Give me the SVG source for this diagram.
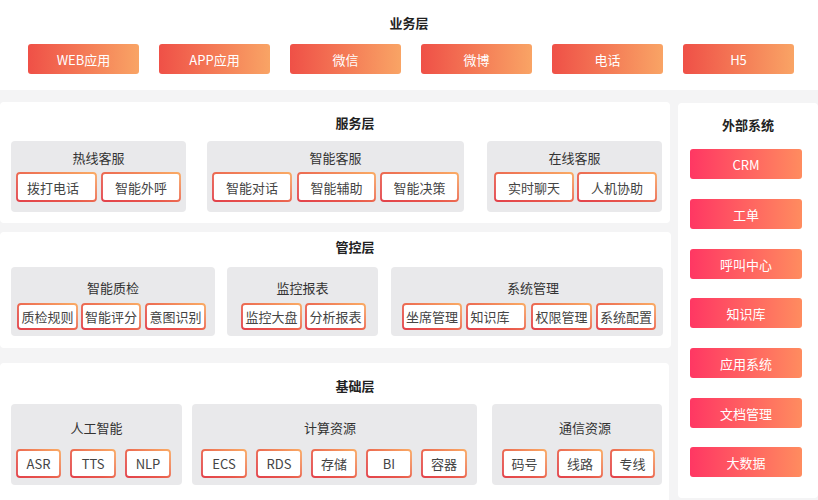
<svg xmlns="http://www.w3.org/2000/svg" width="818" height="500" viewBox="0 0 818 500">
<defs>
<linearGradient id="gBiz" x1="0" y1="0" x2="1" y2="0"><stop offset="0" stop-color="#ef5047"/><stop offset="1" stop-color="#f9a465"/></linearGradient>
<linearGradient id="gExt" x1="0" y1="0" x2="1" y2="0"><stop offset="0" stop-color="#ff3763"/><stop offset="1" stop-color="#ff8c5f"/></linearGradient>
<linearGradient id="gItem" x1="0" y1="1" x2="1" y2="0"><stop offset="0" stop-color="#e3434b"/><stop offset="0.35" stop-color="#e8574c"/><stop offset="1" stop-color="#faaa64"/></linearGradient>
<style>
text{font-family:"Noto Sans CJK SC","Noto Sans",sans-serif;text-anchor:middle;dominant-baseline:central}
.layer{font-size:13px;font-weight:bold;fill:#222}
.panel{fill:#ffffff}
.grp rect{fill:#e9e9eb}
.gt{font-size:13px;fill:#333}
.biz{fill:url(#gBiz)}
.ext{fill:url(#gExt)}
.bt{font-size:13px;fill:#ffffff}
.item{fill:#ffffff;stroke:url(#gItem);stroke-width:1.8}
.it{font-size:13px;fill:#444}
</style>
</defs>
<rect x="0" y="0" width="818" height="500" fill="#f4f4f5"/>
<rect x="0" y="0" width="818" height="90" fill="#ffffff"/>
<rect class="panel" x="0" y="102" width="670" height="121" rx="4"/>
<rect class="panel" x="0" y="232" width="671" height="116" rx="4"/>
<rect class="panel" x="0" y="363" width="669" height="140" rx="4"/>
<rect class="panel" x="678" y="103" width="140" height="395" rx="4"/>

<text class="layer" x="409" y="22">业务层</text>
<text class="layer" x="355" y="122.5">服务层</text>
<text class="layer" x="355" y="246.5">管控层</text>
<text class="layer" x="355" y="385.5">基础层</text>
<text class="layer" x="748" y="124.5">外部系统</text>

<g id="biz-web"><rect class="biz" x="28" y="44" width="111" height="30" rx="3"/><text class="bt" x="83.5" y="59">WEB应用</text></g>
<g id="biz-app"><rect class="biz" x="159" y="44" width="111" height="30" rx="3"/><text class="bt" x="214.5" y="59">APP应用</text></g>
<g id="biz-wechat"><rect class="biz" x="290" y="44" width="111" height="30" rx="3"/><text class="bt" x="345.5" y="59">微信</text></g>
<g id="biz-weibo"><rect class="biz" x="421" y="44" width="111" height="30" rx="3"/><text class="bt" x="476.5" y="59">微博</text></g>
<g id="biz-phone"><rect class="biz" x="552" y="44" width="111" height="30" rx="3"/><text class="bt" x="607.5" y="59">电话</text></g>
<g id="biz-h5"><rect class="biz" x="683" y="44" width="111" height="30" rx="3"/><text class="bt" x="738.5" y="59">H5</text></g>

<g id="ext-crm"><rect class="ext" x="690" y="149" width="112" height="30" rx="3"/><text class="bt" x="746" y="164">CRM</text></g>
<g id="ext-ticket"><rect class="ext" x="690" y="199" width="112" height="30" rx="3"/><text class="bt" x="746" y="214">工单</text></g>
<g id="ext-callcenter"><rect class="ext" x="690" y="249" width="112" height="30" rx="3"/><text class="bt" x="746" y="264">呼叫中心</text></g>
<g id="ext-kb"><rect class="ext" x="690" y="298" width="112" height="30" rx="3"/><text class="bt" x="746" y="313">知识库</text></g>
<g id="ext-app"><rect class="ext" x="690" y="348" width="112" height="30" rx="3"/><text class="bt" x="746" y="363">应用系统</text></g>
<g id="ext-doc"><rect class="ext" x="690" y="398" width="112" height="30" rx="3"/><text class="bt" x="746" y="413">文档管理</text></g>
<g id="ext-bigdata"><rect class="ext" x="690" y="447" width="112" height="30" rx="3"/><text class="bt" x="746" y="462">大数据</text></g>

<g id="svc-hotline" class="grp"><rect x="11" y="141" width="175" height="71" rx="4"/><text class="gt" x="98.5" y="157">热线客服</text></g>
<g id="svc-smart" class="grp"><rect x="207" y="141" width="257" height="71" rx="4"/><text class="gt" x="335.5" y="157">智能客服</text></g>
<g id="svc-online" class="grp"><rect x="487" y="141" width="175" height="71" rx="4"/><text class="gt" x="574.5" y="157">在线客服</text></g>

<g id="svc-dial"><rect class="item" x="17" y="173" width="79" height="28" rx="3"/><text class="it" x="53" y="187">拨打电话</text></g>
<g id="svc-outbound"><rect class="item" x="102" y="173" width="78" height="28" rx="3"/><text class="it" x="141" y="187">智能外呼</text></g>
<g id="svc-dialog"><rect class="item" x="213" y="173" width="78" height="28" rx="3"/><text class="it" x="252" y="187">智能对话</text></g>
<g id="svc-assist"><rect class="item" x="298" y="173" width="77" height="28" rx="3"/><text class="it" x="336.5" y="187">智能辅助</text></g>
<g id="svc-decision"><rect class="item" x="381" y="173" width="77" height="28" rx="3"/><text class="it" x="419.5" y="187">智能决策</text></g>
<g id="svc-chat"><rect class="item" x="495" y="173" width="78" height="28" rx="3"/><text class="it" x="534" y="187">实时聊天</text></g>
<g id="svc-human"><rect class="item" x="578" y="173" width="78" height="28" rx="3"/><text class="it" x="617" y="187">人机协助</text></g>

<g id="ctl-qc" class="grp"><rect x="11" y="267" width="204" height="69" rx="4"/><text class="gt" x="113" y="287">智能质检</text></g>
<g id="ctl-monitor" class="grp"><rect x="227" y="267" width="151" height="69" rx="4"/><text class="gt" x="302.5" y="287">监控报表</text></g>
<g id="ctl-sys" class="grp"><rect x="391" y="267" width="272" height="69" rx="4"/><text class="gt" x="533" y="287">系统管理</text></g>

<g id="ctl-rules"><rect class="item" x="18" y="304" width="59" height="25" rx="3"/><text class="it" x="47.5" y="316.5">质检规则</text></g>
<g id="ctl-score"><rect class="item" x="82" y="304" width="58" height="25" rx="3"/><text class="it" x="111" y="316.5">智能评分</text></g>
<g id="ctl-intent"><rect class="item" x="146" y="304" width="59" height="25" rx="3"/><text class="it" x="175.5" y="316.5">意图识别</text></g>
<g id="ctl-dashboard"><rect class="item" x="242" y="304" width="59" height="25" rx="3"/><text class="it" x="271.5" y="316.5">监控大盘</text></g>
<g id="ctl-report"><rect class="item" x="306" y="304" width="59" height="25" rx="3"/><text class="it" x="335.5" y="316.5">分析报表</text></g>
<g id="ctl-seat"><rect class="item" x="403" y="304" width="58" height="25" rx="3"/><text class="it" x="432" y="316.5">坐席管理</text></g>
<g id="ctl-kb"><rect class="item" x="467" y="304" width="58" height="25" rx="3"/><text class="it" x="490" y="316.5">知识库</text></g>
<g id="ctl-perm"><rect class="item" x="532" y="304" width="59" height="25" rx="3"/><text class="it" x="561.5" y="316.5">权限管理</text></g>
<g id="ctl-config"><rect class="item" x="597" y="304" width="58" height="25" rx="3"/><text class="it" x="626" y="316.5">系统配置</text></g>

<g id="base-ai" class="grp"><rect x="11" y="404" width="171" height="81" rx="4"/><text class="gt" x="96.5" y="427">人工智能</text></g>
<g id="base-compute" class="grp"><rect x="192" y="404" width="285" height="81" rx="4"/><text class="gt" x="330" y="427">计算资源</text></g>
<g id="base-comm" class="grp"><rect x="492" y="404" width="170" height="81" rx="4"/><text class="gt" x="585" y="427">通信资源</text></g>

<g id="base-asr"><rect class="item" x="17" y="450" width="43" height="27" rx="3"/><text class="it" x="38.5" y="463.5">ASR</text></g>
<g id="base-tts"><rect class="item" x="71" y="450" width="44" height="27" rx="3"/><text class="it" x="93" y="463.5">TTS</text></g>
<g id="base-nlp"><rect class="item" x="126" y="450" width="44" height="27" rx="3"/><text class="it" x="148" y="463.5">NLP</text></g>
<g id="base-ecs"><rect class="item" x="202" y="450" width="44" height="27" rx="3"/><text class="it" x="224" y="463.5">ECS</text></g>
<g id="base-rds"><rect class="item" x="257" y="450" width="44" height="27" rx="3"/><text class="it" x="279" y="463.5">RDS</text></g>
<g id="base-storage"><rect class="item" x="312" y="450" width="44" height="27" rx="3"/><text class="it" x="334" y="463.5">存储</text></g>
<g id="base-bi"><rect class="item" x="367" y="450" width="44" height="27" rx="3"/><text class="it" x="389" y="463.5">BI</text></g>
<g id="base-container"><rect class="item" x="422" y="450" width="44" height="27" rx="3"/><text class="it" x="444" y="463.5">容器</text></g>
<g id="base-number"><rect class="item" x="503" y="450" width="43" height="27" rx="3"/><text class="it" x="524.5" y="463.5">码号</text></g>
<g id="base-line"><rect class="item" x="558" y="450" width="44" height="27" rx="3"/><text class="it" x="580" y="463.5">线路</text></g>
<g id="base-dedicated"><rect class="item" x="611" y="450" width="43" height="27" rx="3"/><text class="it" x="632.5" y="463.5">专线</text></g>

<g id="connectors"></g>
</svg>
